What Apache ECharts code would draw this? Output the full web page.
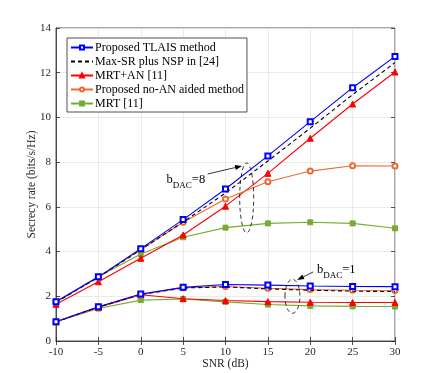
<!DOCTYPE html>
<html><head><meta charset="utf-8">
<script src="https://cdn.jsdelivr.net/npm/echarts@6/dist/echarts.min.js"></script>
<style>html,body{margin:0;padding:0;background:#fff}#c{width:436px;height:373px}</style>
</head><body><div id="c"></div>
<script>
const snr = [-10, -5, 0, 5, 10, 15, 20, 25, 30];
const xTicks = [-10, -5, 0, 5, 10, 15, 20, 25, 30];
const yTicks = [0, 2, 4, 6, 8, 10, 12, 14];

// b_DAC = 8
const tlais8  = [1.76, 2.87, 4.13, 5.43, 6.80, 8.28, 9.81, 11.33, 12.73];
const maxsr8  = [1.73, 2.85, 4.08, 5.32, 6.62, 8.05, 9.52, 11.02, 12.45];
const mrtan8  = [1.64, 2.65, 3.70, 4.74, 6.03, 7.50, 9.07, 10.60, 12.03];
const noan8   = [1.75, 2.85, 4.09, 5.31, 6.35, 7.12, 7.60, 7.84, 7.83];
const mrt8    = [1.76, 2.87, 3.89, 4.64, 5.07, 5.26, 5.31, 5.26, 5.04];

// b_DAC = 1
const tlais1  = [0.86, 1.53, 2.10, 2.40, 2.53, 2.50, 2.46, 2.44, 2.43];
const maxsr1  = [0.86, 1.52, 2.08, 2.37, 2.42, 2.33, 2.27, 2.23, 2.21];
const noan1   = [0.86, 1.52, 2.08, 2.38, 2.44, 2.36, 2.30, 2.27, 2.26];
const mrtan1  = [0.86, 1.50, 2.07, 1.89, 1.81, 1.76, 1.73, 1.72, 1.72];
const mrt1    = [0.86, 1.45, 1.83, 1.88, 1.75, 1.63, 1.57, 1.55, 1.54];

const names = ['Proposed TLAIS method', 'Max-SR plus NSP in [24]', 'MRT+AN [11]', 'Proposed no-AN aided method', 'MRT [11]'];

const FONT = 'Liberation Serif';
const BLUE = '#0000ff', BLACK = '#000000', RED = '#ff0000', ORANGE = '#ea6a32', GREEN = '#77ac30';

function pts(arr){ return snr.map((x,i)=>[x, arr[i]]); }
function ser(name, arr, color, symbol, size, dashed, z){
  return {
    name, type:'line', data: pts(arr), symbol, symbolSize: size, z: z,
    showSymbol: symbol !== 'none',
    lineStyle:{color, width:1.1, type: dashed ? [4,3] : 'solid'},
    itemStyle:{color: color, borderColor: color, borderWidth: 1},
    color: color,
    emphasis:{disabled:true}, animation:false
  };
}

const series = [
  ser(names[4], mrt8, GREEN, 'rect', 5, false, 2),
  ser(names[4], mrt1, GREEN, 'rect', 5, false, 2),
  ser(names[2], mrtan8, RED, 'triangle', 6, false, 3),
  ser(names[2], mrtan1, RED, 'triangle', 6, false, 3),
  ser(names[3], noan8, ORANGE, 'emptyCircle', 5, false, 4),
  ser(names[3], noan1, ORANGE, 'emptyCircle', 5, false, 4),
  ser(names[1], maxsr8, BLACK, 'none', 0, true, 5),
  ser(names[1], maxsr1, BLACK, 'none', 0, true, 5),
  ser(names[0], tlais8, BLUE, 'emptyRect', 5, false, 6),
  ser(names[0], tlais1, BLUE, 'emptyRect', 5, false, 6)
];

const chart = echarts.init(document.getElementById('c'), null, {renderer:'canvas'});
const axisCommon = {
  axisLine:{show:true, onZero:false, lineStyle:{color:'#262626', width:0.8}},
  axisTick:{show:true, inside:true, length:4, lineStyle:{color:'#262626', width:0.8}},
  axisLabel:{color:'#262626', fontFamily:FONT, fontSize:11}
};
chart.setOption({
  animation:false,
  backgroundColor:'#fff',
  grid:{left:56, right:41, top:28, bottom:32, show:true, borderColor:'#262626', borderWidth:0.8, outerBoundsMode:'none', containLabel:false},
  legend:{
    data: names.map(n => n === names[1] ? {name:n, itemStyle:{opacity:0}} : {name:n}),
    orient:'vertical', left:67, top:38,
    backgroundColor:'#fff', borderColor:'#262626', borderWidth:0.8,
    padding:[3,3,2,3], itemGap:1, itemWidth:22, itemHeight:5,
    textStyle:{fontFamily:FONT, fontSize:12, color:'#000', lineHeight:13, padding:[0,0,0,-3]},
    selectedMode:false
  },
  xAxis:[{
    type:'value', min:-10, max:30, interval:5,
    name:'SNR (dB)', nameLocation:'middle', nameGap:17, nameMoveOverlap:false,
    nameTextStyle:{fontFamily:FONT, fontSize:11.5, color:'#262626'},
    splitLine:{show:true, lineStyle:{color:'#e6e6e6', width:0.8}},
    ...axisCommon,
    axisLabel:{...axisCommon.axisLabel, margin:6, formatter: v => xTicks.includes(v) ? String(v) : ''}
  },{
    type:'value', min:-10, max:30, interval:5, position:'top',
    axisLine:{show:false}, axisTick:axisCommon.axisTick, axisLabel:{show:false}, splitLine:{show:false}
  }],
  yAxis:[{
    type:'value', min:0, max:14, interval:2,
    name:'Secrecy rate (bits/s/Hz)', nameLocation:'middle', nameGap:18, nameMoveOverlap:false,
    nameTextStyle:{fontFamily:FONT, fontSize:11.5, color:'#262626'},
    splitLine:{show:true, lineStyle:{color:'#e6e6e6', width:0.8}},
    ...axisCommon,
    axisLabel:{...axisCommon.axisLabel, margin:5, formatter: v => yTicks.includes(v) ? String(v) : ''}
  },{
    type:'value', min:0, max:14, interval:2, position:'right',
    axisLine:{show:false, onZero:false}, axisTick:axisCommon.axisTick, axisLabel:{show:false}, splitLine:{show:false}
  }],
  series
});

// annotations, anchored in data coordinates
const ann = [
  {ell:[12.5, 6.4], rx:7, ry:35, from:[7.9, 7.47], to:[11.95, 7.83], text:[7.6, 7.5], sub:'=8', align:'right'},
  {ell:[17.9, 2.0], rx:7.5, ry:17, from:[20.35, 3.09], to:[18.45, 2.73], text:[20.8, 3.5], sub:'=1', align:'left'}
];
const g = [];
ann.forEach(a => {
  const c = chart.convertToPixel({gridIndex:0}, a.ell);
  g.push({type:'ellipse', shape:{cx:c[0], cy:c[1], rx:a.rx, ry:a.ry}, style:{fill:'none', stroke:'#000', lineWidth:0.8, lineDash:[4,3]}, z:100});
  const p0 = chart.convertToPixel({gridIndex:0}, a.from);
  const p1 = chart.convertToPixel({gridIndex:0}, a.to);
  const dx = p1[0]-p0[0], dy = p1[1]-p0[1], L = Math.hypot(dx,dy), ux = dx/L, uy = dy/L;
  const hl = 7, hw = 2.5;
  const bx = p1[0]-ux*hl, by = p1[1]-uy*hl;
  g.push({type:'line', shape:{x1:p0[0], y1:p0[1], x2:bx, y2:by}, style:{stroke:'#000', lineWidth:0.8}, z:100});
  g.push({type:'polygon', shape:{points:[[p1[0],p1[1]],[bx-uy*hw, by+ux*hw],[bx+uy*hw, by-ux*hw]]}, style:{fill:'#000'}, z:100});
  const t = chart.convertToPixel({gridIndex:0}, a.text);
  g.push({type:'text', x:t[0], y:t[1], z:100, style:{
    text:'{b|b}{s|DAC}{n|' + a.sub + '}', align:a.align, verticalAlign:'top', fill:'#000',
    rich:{
      b:{fontFamily:FONT, fontSize:12.5, verticalAlign:'top', fill:'#000'},
      s:{fontFamily:FONT, fontSize:9, verticalAlign:'top', padding:[8,0,0,0], fill:'#000'},
      n:{fontFamily:FONT, fontSize:12.5, verticalAlign:'top', fill:'#000'}
    }
  }});
});
chart.setOption({graphic:g});
</script></body></html>
